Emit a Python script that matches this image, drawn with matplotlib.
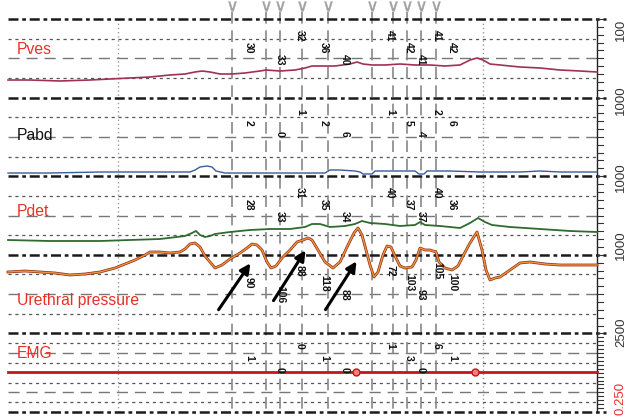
import matplotlib.pyplot as plt

plt.rcParams['font.family'] = ['Liberation Sans', 'DejaVu Sans']

# channel layout (pixel units of the original picture)
channel_names = ['Pves', 'Pabd', 'Pdet', 'Urethral pressure', 'EMG']
channel_colors = ['#e8302a', '#111111', '#e8302a', '#e8302a', '#e8302a']
label_y = [50, 135, 211, 301, 354]
bounds = [19, 97.6, 176.2, 254.8, 333.4, 412]
scale_labels = ['100', '1000', '1000', '1000', '2500', '0.250']
scale_y = [30, 100, 177, 245, 332, 398]

# traces (x, y)
pves_x = [8, 30, 60, 90, 110, 130, 150, 170, 185, 195, 202, 210, 220, 232, 245, 260, 266, 280, 295, 305, 312, 320,
          335, 350, 357, 363, 372, 385, 400, 415, 430, 445, 460, 470, 477, 483, 490, 500, 520, 540, 560, 580, 597]
pves_y = [80, 80, 81, 80, 79, 78, 77, 75, 74, 72, 71, 72, 74, 74, 73, 71, 70, 71, 70, 68, 66, 66,
          66, 64, 62, 64, 65, 65, 64, 65, 65, 66, 65, 60, 58, 60, 64, 65, 67, 68, 70, 71, 72]

pabd_x = [8, 50, 100, 150, 190, 195, 200, 207, 212, 216, 225, 260, 300, 325, 330, 340, 355, 360, 363, 372, 375,
          400, 415, 419, 424, 427, 450, 480, 520, 540, 560, 597]
pabd_y = [173, 173, 172, 172, 172, 170, 167, 166, 167, 171, 173, 173, 173, 173, 170, 170, 171, 172, 174, 174, 171,
          171, 171, 174, 174, 171, 171, 172, 172, 171, 172, 172]

pdet_x = [8, 50, 100, 130, 160, 185, 192, 196, 200, 205, 210, 215, 230, 250, 270, 290, 305, 312, 320, 330, 345,
          355, 362, 370, 385, 400, 415, 420, 425, 440, 460, 470, 478, 485, 492, 510, 540, 570, 597]
pdet_y = [240, 241, 241, 240, 239, 236, 233, 231, 235, 237, 236, 234, 232, 230, 229, 229, 227, 224, 224, 227, 226,
          224, 221, 223, 224, 226, 225, 222, 225, 226, 228, 223, 218, 222, 225, 227, 229, 231, 232]

ura_x = [8, 25, 40, 55, 70, 85, 100, 115, 125, 135, 145, 150, 160, 170, 180, 185, 190, 195, 200, 205, 210, 215,
         222, 230, 240, 247, 252, 257, 262, 267, 271, 276, 282, 290, 297, 303, 308, 312, 318, 325, 333, 340, 348,
         354, 358, 362, 366, 370, 374, 378, 383, 387, 391, 395, 400, 405, 412, 416, 420, 425, 430, 436, 439, 445,
         452, 458, 463, 470, 477, 482, 486, 490, 495, 500, 510, 520, 530, 545, 560, 575, 597]
ura_y = [272, 271, 272, 273, 275, 274, 272, 268, 264, 260, 255, 252, 252, 253, 252, 249, 244, 243, 247, 256, 262, 268,
         265, 259, 253, 248, 244, 245, 250, 262, 268, 266, 258, 250, 242, 240, 238, 240, 250, 262, 268, 262, 245,
         233, 228, 235, 250, 265, 277, 272, 255, 246, 247, 256, 266, 268, 267, 260, 248, 250, 250, 252, 262, 268,
         270, 266, 256, 243, 232, 250, 270, 280, 278, 277, 270, 263, 262, 264, 265, 265, 265]

emg_y = 372
emg_blips = [356, 475]

# event marks and the values printed beside them
event_x = [232, 266, 280, 302, 328, 372, 393, 407, 421, 436]
value_x = [249, 280, 300, 324, 345, 390, 409, 421, 437, 452]
value_level = [1, 2, 0, 1, 2, 0, 1, 2, 0, 1]
level_y = [(36, 48, 60), (112, 123, 134), (193, 205, 217), (271, 283, 295), (346, 358, 370)]
pves_vals = ['30', '33', '32', '36', '40', '41', '42', '41', '41', '42']
pabd_vals = ['2', '0', '1', '2', '6', '1', '5', '4', '2', '6']
pdet_vals = ['28', '33', '31', '35', '34', '40', '37', '37', '40', '36']
ura_vals = ['90', '106', '88', '118', '88', '72', '103', '93', '105', '100']
emg_vals = ['1', '0', '0', '1', '0', '1', '3', '0', '6', '1']

arrow_tail = [(217, 312), (272, 303), (324, 312)]
arrow_head = [(252, 261), (307, 248), (358, 259)]

fig = plt.figure(figsize=(6.41, 4.18), dpi=100)
ax = fig.add_axes([0, 0, 1, 1])
ax.set_xlim(0, 641)
ax.set_ylim(418, 0)
ax.axis('off')

x0, x1 = 8, 597

# grid inside each channel
for i in range(5):
    top, bot = bounds[i], bounds[i + 1]
    ndiv = 8 if i == 4 else 4
    step = (bot - top) / ndiv
    for k in range(1, ndiv):
        y = top + k * step
        if i == 4 and k == 4:
            continue
        if k % 2 == 0:
            ax.plot([x0, x1], [y, y], color='#777777', lw=1.0, ls=(0, (8, 5)))
        else:
            ax.plot([x0, x1], [y, y], color='#555555', lw=0.9, ls=(0, (2.5, 3)))

# vertical lines
for xv in [118, 483]:
    ax.plot([xv, xv], [bounds[0], bounds[-1]], color='#999999', lw=1.0, ls=(0, (1, 2)))
for xv in event_x:
    ax.plot([xv, xv], [12, bounds[-1]], color='#888888', lw=1.2, ls=(0, (7, 4)))
ax.plot(event_x, [6] * len(event_x), ls='none', marker=r'$\vee$', ms=7, color='#a0a0a0',
        markeredgewidth=0.3)

# channel boundaries
for b in bounds:
    ax.plot([x0, 606], [b, b], color='#1a1a1a', lw=1.8, ls=(0, (4, 1.5, 1.5, 1.5)))

# right scale
ax.plot([x1, x1], [bounds[0], bounds[-1]], color='#222222', lw=1.0)
for i in range(5):
    top, bot = bounds[i], bounds[i + 1]
    n = 20 if i == 4 else 10
    for k in range(n):
        y = top + k * (bot - top) / n
        ax.plot([x1, x1 + 6], [y, y], color='#333333', lw=0.8)
for lab, y in zip(scale_labels, scale_y):
    ax.text(621, y, lab, rotation=90, ha='center', va='center', fontsize=9.5,
            color='#e8302a' if lab == '0.250' else '#333333')

# traces
ax.plot(pves_x, pves_y, color='#a03055', lw=1.2)
ax.plot(pabd_x, pabd_y, color='#3b5c96', lw=1.0)
ax.plot(pdet_x, pdet_y, color='#2f6a2f', lw=1.3)
ax.plot(ura_x, ura_y, color='#8e2c14', lw=2.0)
ax.plot(ura_x, ura_y, color='#f0953f', lw=1.0)
ax.plot([x0, x1], [emg_y, emg_y], color='#c01818', lw=2.0)
ax.plot(emg_blips, [emg_y] * len(emg_blips), ls='none', marker='o', ms=5, mfc='#f08080', mec='#c01818')

# channel names
for name, c, y in zip(channel_names, channel_colors, label_y):
    ax.text(17, y, name, color=c, fontsize=11.3, ha='left', va='center')

# values beside event marks
for i, vals in enumerate([pves_vals, pabd_vals, pdet_vals, ura_vals, emg_vals]):
    for xv, lv, v in zip(value_x, value_level, vals):
        ax.text(xv, level_y[i][lv], v, rotation=270, ha='center', va='center',
                fontsize=7.5, fontweight='bold', color='#111111')

# arrows
for t, h in zip(arrow_tail, arrow_head):
    ax.annotate('', xy=h, xytext=t,
                arrowprops=dict(arrowstyle='-|>,head_length=0.6,head_width=0.3', color='black', lw=2.2))

fig.savefig('out.png', dpi=100)
